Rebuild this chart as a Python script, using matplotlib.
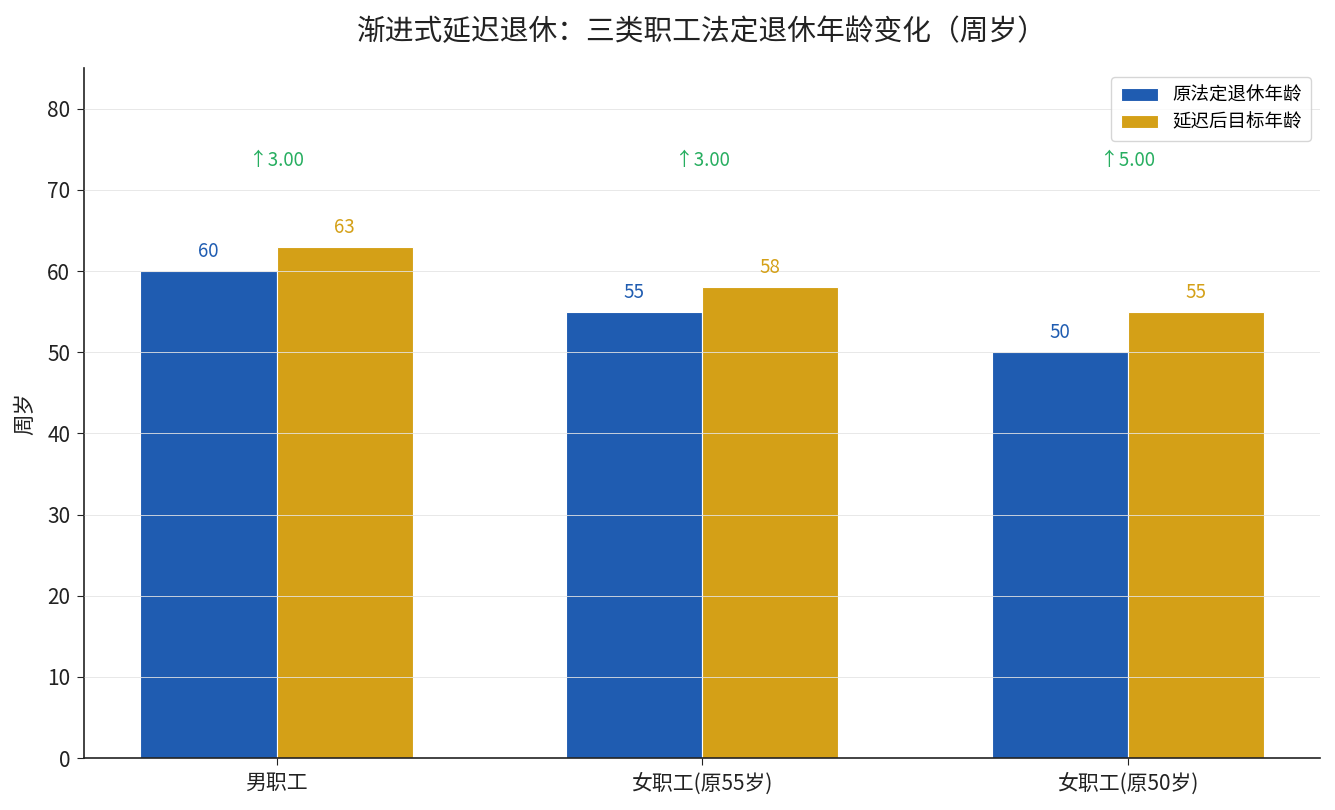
import matplotlib
matplotlib.use("Agg")
import matplotlib.pyplot as plt
import numpy as np

plt.rcParams['font.family'] = ['Noto Sans CJK SC', 'DejaVu Sans']
plt.rcParams['axes.unicode_minus'] = False

categories = ['男职工', '女职工(原55岁)', '女职工(原50岁)']
original_age = [60, 55, 50]
target_age = [63, 58, 55]
series_names = ['原法定退休年龄', '延迟后目标年龄']

blue = '#1F5CB1'
gold = '#D4A017'
green = '#27AE60'

fig, ax = plt.subplots(figsize=(13.35, 8.1), dpi=100)
fig.subplots_adjust(left=0.063, right=0.989, top=0.916, bottom=0.064)

x = np.arange(len(categories))
w = 0.32
ax.bar(x - w/2, original_age, w, color=blue, edgecolor='white', linewidth=0.8, label=series_names[0], zorder=1)
ax.bar(x + w/2, target_age, w, color=gold, edgecolor='white', linewidth=0.8, label=series_names[1], zorder=1)

for xi, v in zip(x - w/2, original_age):
    ax.text(xi, v + 1.1, f'{v}', ha='center', va='bottom', color=blue, fontsize=13.5)
for xi, v in zip(x + w/2, target_age):
    ax.text(xi, v + 1.1, f'{v}', ha='center', va='bottom', color=gold, fontsize=13.5)

top = max(target_age)
for xi, o, t in zip(x, original_age, target_age):
    ax.text(xi, top + 10.6, f'↑{t - o:.2f}', ha='center', va='center', color=green, fontsize=13.5)

ax.set_ylim(0, 85)
ax.set_yticks(range(0, 81, 10))
ax.set_xticks(x)
ax.set_xticklabels(categories, fontsize=15)
ax.tick_params(axis='y', labelsize=15, length=5, pad=5, colors='#222222')
ax.tick_params(axis='x', length=5, pad=5, colors='#222222')
ax.set_ylabel('周岁', fontsize=15.5, labelpad=8, color='#222222')
ax.set_title('渐进式延迟退休：三类职工法定退休年龄变化（周岁）', fontsize=20.7, pad=20, color='#222222')

ax.set_axisbelow(False)
ax.yaxis.grid(True, color='#e4e4e4', alpha=0.85, linewidth=0.7, zorder=2)
ax.xaxis.grid(False)
for s in ['top', 'right']:
    ax.spines[s].set_visible(False)
for s in ['left', 'bottom']:
    ax.spines[s].set_color('#222222')
    ax.spines[s].set_linewidth(1.2)

ax.legend(loc='upper right', fontsize=13.3, frameon=True, edgecolor='#cccccc',
          borderpad=0.5, handlelength=2.0, handletextpad=0.8, labelspacing=0.5)

fig.savefig('out.png', dpi=100)
